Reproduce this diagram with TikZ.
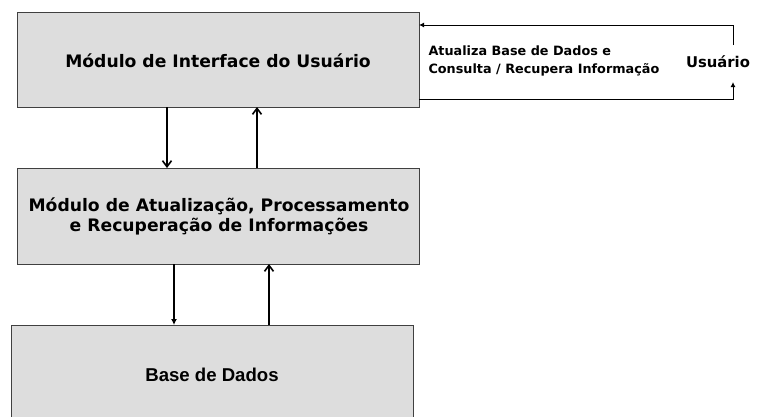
\documentclass[tikz,border=0pt]{standalone}
\usepackage{fontspec}
\setmainfont{DejaVu Sans}
\newfontfamily\arialfont{Liberation Sans}
\usetikzlibrary{arrows.meta}
\definecolor{boxfill}{HTML}{DDDDDD}
\definecolor{boxline}{HTML}{404040}
\begin{document}
\begin{tikzpicture}[x=1pt,y=-1pt,
  modbox/.style={draw=boxline,line width=1pt,fill=boxfill},
  thickarrow/.style={line width=1.8pt},
  thinline/.style={line width=1pt},
  bigtext/.style={font=\bfseries\fontsize{17.2}{20}\selectfont,align=center},
]
\useasboundingbox (0,0) rectangle (763,416);
\fill[white] (0,0) rectangle (763,416);
% boxes
\draw[modbox] (17,12) rectangle (419,107);
\draw[modbox] (17,168) rectangle (419,264);
\draw[modbox] (11,325) rectangle (413,420);
\node[bigtext] (m1) at (218,61) {Módulo de Interface do Usuário};
\node[bigtext] (m2) at (219,216) {Módulo de Atualização, Processamento\\e Recuperação de Informações};
\node[font=\arialfont\bfseries\fontsize{18.6}{20}\selectfont] (db) at (212,375) {Base de Dados};
% coordinates
\coordinate (a1s) at (167,107); \coordinate (a1e) at (167,168);
\coordinate (a2s) at (257,168); \coordinate (a2e) at (257,107);
\coordinate (a3s) at (174,264); \coordinate (a3e) at (174,325);
\coordinate (a4s) at (269,325); \coordinate (a4e) at (269,264);
\draw[thickarrow,-{Straight Barb[length=6pt,width=9pt,line width=1.6pt]}] (a1s) -- (a1e);
\draw[thickarrow,-{Straight Barb[length=6pt,width=9pt,line width=1.6pt]}] (a2s) -- (a2e);
\draw[thickarrow,-{Latex[length=6pt,width=6pt]}] (a3s) -- (a3e);
\draw[thickarrow,-{Straight Barb[length=6pt,width=9pt,line width=1.6pt]}] (a4s) -- (a4e);
% user loop
\node[font=\bfseries\fontsize{14.8}{18}\selectfont] (u) at (718,62) {Usuário};
\node[font=\bfseries\fontsize{12.8}{18}\selectfont,align=left,anchor=west] (lbl) at (425,61) {Atualiza Base de Dados e\\Consulta / Recupera Informação};
\coordinate (t1) at (419,25); \coordinate (t2) at (733,25);
\coordinate (b1) at (419,99); \coordinate (b2) at (733,99);
\draw[thinline,-{Latex[length=5pt,width=5pt]}] (733,45) -- (t2) -- (t1);
\draw[thinline,-{Latex[length=5pt,width=5pt]}] (b1) -- (b2) -- (733,82);
\end{tikzpicture}
\end{document}
